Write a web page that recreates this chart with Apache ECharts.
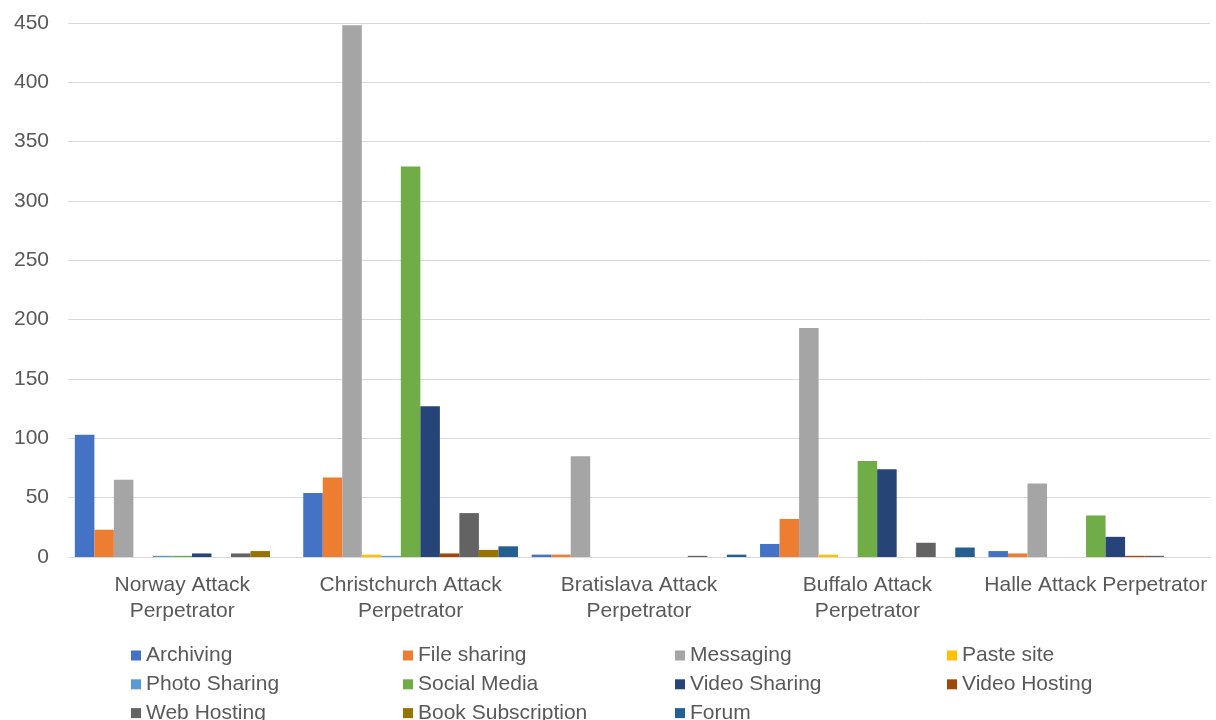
<!DOCTYPE html>
<html>
<head>
<meta charset="utf-8">
<title>Platforms used by attack perpetrators</title>
<script src="https://cdn.jsdelivr.net/npm/echarts@6/dist/echarts.min.js"></script>
<style>
  html, body { margin: 0; padding: 0; background: #ffffff; }
  #chart { width: 1216px; height: 720px; }
</style>
</head>
<body>
<div id="chart"></div>
<script>
// Category tick labels (pre-wrapped the way they are shown under the axis)
const categories = [
  'Norway Attack\nPerpetrator',
  'Christchurch Attack\nPerpetrator',
  'Bratislava Attack\nPerpetrator',
  'Buffalo Attack\nPerpetrator',
  'Halle Attack Perpetrator'
];

// Counts per platform type, one value per perpetrator
const archiving        = [103, 54, 2, 11, 5];
const fileSharing      = [23, 67, 2, 32, 3];
const messaging        = [65, 448, 85, 193, 62];
const pasteSite        = [0, 2, 0, 2, 0];
const photoSharing     = [1, 1, 0, 0, 0];
const socialMedia      = [1, 329, 0, 81, 35];
const videoSharing     = [3, 127, 0, 74, 17];
const videoHosting     = [0, 3, 0, 0, 1];
const webHosting       = [3, 37, 1, 12, 1];
const bookSubscription = [5, 6, 0, 0, 0];
const forum            = [0, 9, 2, 8, 0];

const seriesNames = [
  'Archiving', 'File sharing', 'Messaging', 'Paste site',
  'Photo Sharing', 'Social Media', 'Video Sharing', 'Video Hosting',
  'Web Hosting', 'Book Subscription', 'Forum'
];
const seriesValues = [
  archiving, fileSharing, messaging, pasteSite,
  photoSharing, socialMedia, videoSharing, videoHosting,
  webHosting, bookSubscription, forum
];
const colors = [
  '#4472C4', '#ED7D31', '#A5A5A5', '#FFC000',
  '#5B9BD5', '#70AD47', '#264478', '#9E480E',
  '#636363', '#997300', '#255E91'
];

const FONT = '"Liberation Sans", Arial, sans-serif';
const TEXT_COLOR = '#595959';
const FONT_SIZE = 21;

const series = seriesNames.map((name, i) => ({
  name: name,
  type: 'bar',
  data: seriesValues[i],
  barGap: '0%',
  barCategoryGap: '6%',
  itemStyle: { color: colors[i] },
  emphasis: { disabled: true }
}));

// Legend laid out as four columns, filled row by row
const legends = [0, 1, 2, 3].map(col => ({
  orient: 'vertical',
  left: 131 + col * 272,
  top: 645,
  height: 100,
  padding: 0,
  itemWidth: 10,
  itemHeight: 10,
  itemGap: 7.8,
  icon: 'rect',
  selectedMode: false,
  textStyle: { fontFamily: FONT, fontSize: FONT_SIZE, color: TEXT_COLOR, lineHeight: 21 },
  data: seriesNames.filter((_, i) => i % 4 === col)
}));

const chart = echarts.init(document.getElementById('chart'), null, { renderer: 'canvas' });
chart.setOption({
  animation: false,
  color: colors,
  textStyle: { fontFamily: FONT },
  grid: { left: 68, right: 6, top: 23, bottom: 163 },
  legend: legends,
  xAxis: {
    type: 'category',
    data: categories,
    axisLine: { show: true, lineStyle: { color: '#D9D9D9', width: 1 } },
    axisTick: { show: false },
    axisLabel: {
      fontFamily: FONT, fontSize: FONT_SIZE, color: TEXT_COLOR,
      lineHeight: 26, margin: 15, interval: 0
    }
  },
  yAxis: {
    type: 'value',
    min: 0,
    max: 450,
    interval: 50,
    axisLine: { show: false },
    axisTick: { show: false },
    splitLine: { lineStyle: { color: '#D9D9D9', width: 1 } },
    axisLabel: { fontFamily: FONT, fontSize: FONT_SIZE, color: TEXT_COLOR, margin: 19 }
  },
  series: series
});
</script>
</body>
</html>
